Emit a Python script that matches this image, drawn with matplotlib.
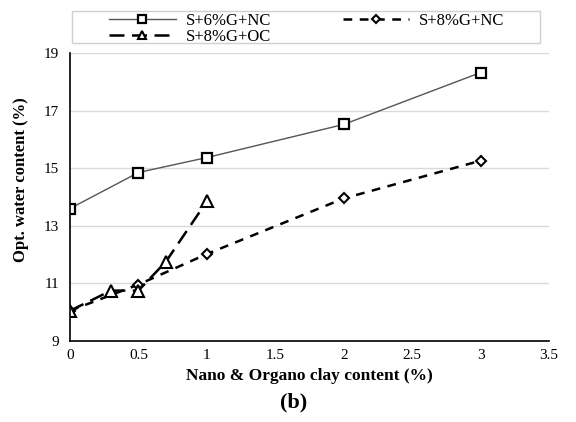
import matplotlib
matplotlib.use("Agg")
import matplotlib.pyplot as plt
from matplotlib.patches import Rectangle

# data
x_nc = [0, 0.5, 1, 2, 3]
wc_6g_nc = [13.6, 14.85, 15.37, 16.52, 18.32]
wc_8g_nc = [10.05, 10.96, 12.02, 13.95, 15.26]
x_oc = [0, 0.3, 0.5, 0.7, 1]
wc_8g_oc = [10.05, 10.75, 10.75, 11.75, 13.85]

x_ticks = [0, 0.5, 1, 1.5, 2, 2.5, 3, 3.5]
x_tick_labels = ["0", "0.5", "1", "1.5", "2", "2.5", "3", "3.5"]
y_ticks = [9, 11, 13, 15, 17, 19]

plt.rcParams['font.family'] = ['Liberation Serif', 'DejaVu Serif']

W, H = 576, 422
fig = plt.figure(figsize=(W / 100, H / 100), dpi=100)
ax = fig.add_axes([70 / W, 1 - 341 / H, 479 / W, 288 / H])

l1, = ax.plot(x_nc, wc_6g_nc, color='#555555', lw=1.0, marker='s', ms=6.5,
              mfc='white', mec='black', mew=1.6)
l2, = ax.plot(x_nc, wc_8g_nc, color='black', lw=1.8, ls=(0, (3.5, 3)),
              marker='D', ms=5, mfc='white', mec='black', mew=1.5)
l3, = ax.plot(x_oc, wc_8g_oc, color='black', lw=1.8, ls=(0, (6, 3)),
              marker='^', ms=8, mfc='white', mec='black', mew=1.5)

ax.set_xlim(0, 3.5)
ax.set_ylim(9, 19)
ax.set_xticks(x_ticks)
ax.set_xticklabels(x_tick_labels)
ax.set_yticks(y_ticks)
ax.tick_params(length=0, labelsize=11, pad=8)
ax.tick_params(axis='x', pad=6)
ax.yaxis.grid(True, color='#d9d9d9', lw=1.0)
ax.set_axisbelow(True)
for s in ['top', 'right']:
    ax.spines[s].set_visible(False)
ax.spines['left'].set_linewidth(1.2)
ax.spines['bottom'].set_linewidth(1.2)

ax.set_xlabel('Nano & Organo clay content (%)', fontsize=12.5,
              fontweight='bold')
ax.xaxis.set_label_coords(0.5, (341 - 376) / 288)
ax.xaxis.label.set_va('center')
ax.set_ylabel('Opt. water content (%)', fontsize=12, fontweight='bold')
ax.yaxis.set_label_coords((21 - 70) / 479, (341 - 180) / 288)
ax.yaxis.label.set_va('center')

# legend frame drawn separately so the two columns sit where they do in the original
fig.patches.append(Rectangle((72 / W, 1 - 43 / H), 468 / W, 32 / H,
                             transform=fig.transFigure, fill=False,
                             edgecolor='#d0d0d0', lw=1.0))
fig.legend([l1, l3, l2], ['S+6%G+NC', 'S+8%G+OC', 'S+8%G+NC'],
           ncol=2, loc='upper left', bbox_to_anchor=(109 / W, 1 - 13 / H),
           fontsize=12, handlelength=4.0, frameon=False, borderpad=0,
           borderaxespad=0, labelspacing=0.02, handletextpad=0.6,
           columnspacing=4.3, markerscale=0.8)

fig.text(0.51, 1 - 402 / H, '(b)', ha='center', va='center', fontsize=16,
         fontweight='bold')

fig.savefig('out.png', dpi=100)
